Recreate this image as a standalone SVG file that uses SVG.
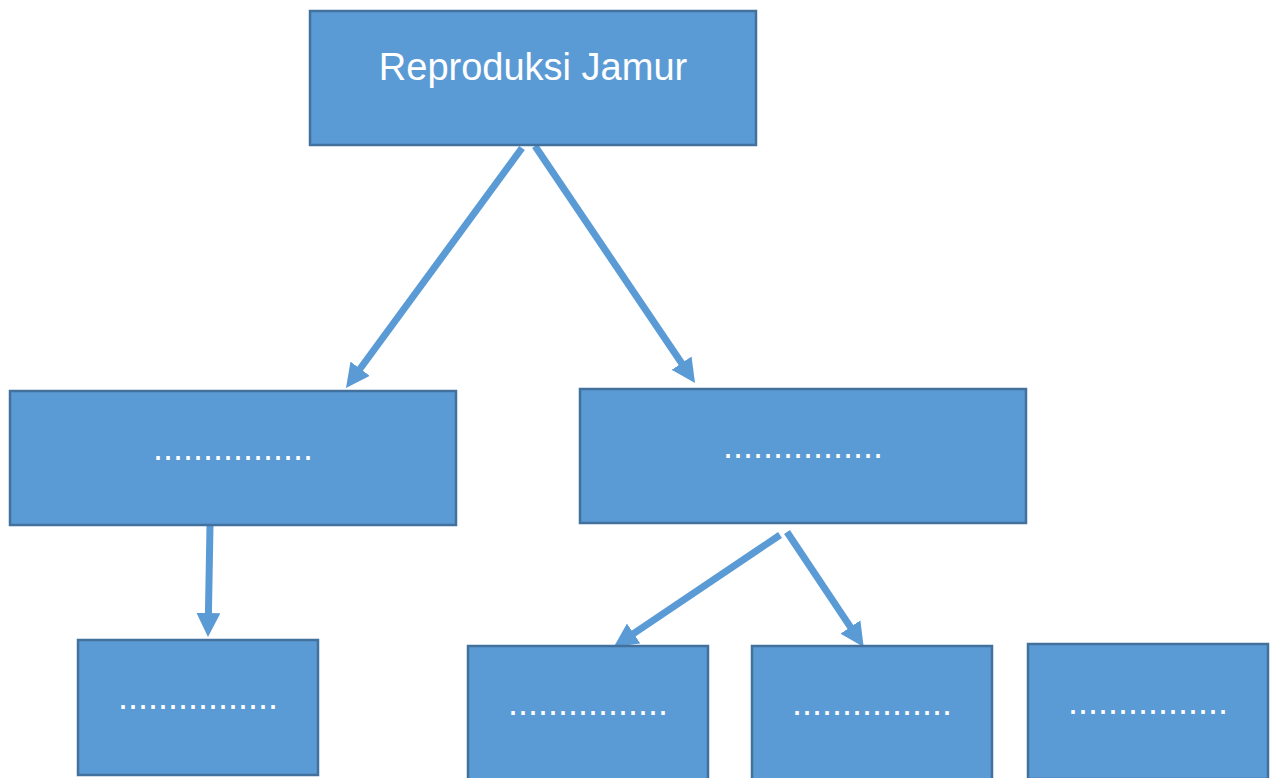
<svg xmlns="http://www.w3.org/2000/svg" width="1280" height="778" viewBox="0 0 1280 778">
<style>
.box{fill:#5b9bd5;stroke:#41719c;stroke-width:2.5}
.t{fill:#ffffff;font-family:"Liberation Sans",Arial,sans-serif;text-anchor:middle}
.c{stroke:#5b9bd5;stroke-width:7;fill:none;marker-end:url(#ah)}
</style>
<defs>
<marker id="ah" markerUnits="userSpaceOnUse" markerWidth="24" markerHeight="24" refX="2" refY="12" orient="auto">
<path d="M0,0 L24,12 L0,24 z" fill="#5b9bd5"/>
</marker>
</defs>
<rect width="1280" height="778" fill="#ffffff"/>
<g id="connectors">
<line class="c" x1="522" y1="148" x2="359" y2="370.3"/>
<line class="c" x1="535" y1="146" x2="682.7" y2="364.8"/>
<line class="c" x1="210" y1="526" x2="208.4" y2="615"/>
<line class="c" x1="780" y1="535" x2="632" y2="634.6"/>
<line class="c" x1="787" y1="532" x2="851.5" y2="628.6"/>
</g>
<g id="root">
<rect class="box" x="310" y="11" width="446" height="134"/>
<text class="t" x="533" y="80" font-size="38">Reproduksi Jamur</text>
</g>
<g id="mid-left">
<rect class="box" x="10" y="391" width="446" height="134"/>
<text class="t" x="233" y="460" font-size="36">................</text>
</g>
<g id="mid-right">
<rect class="box" x="580" y="389" width="446" height="134"/>
<text class="t" x="803" y="458" font-size="36">................</text>
</g>
<g id="bottom-1">
<rect class="box" x="78" y="640" width="240" height="135"/>
<text class="t" x="198" y="709" font-size="36">................</text>
</g>
<g id="bottom-2">
<rect class="box" x="468" y="646" width="240" height="135"/>
<text class="t" x="588" y="715" font-size="36">................</text>
</g>
<g id="bottom-3">
<rect class="box" x="752" y="646" width="240" height="135"/>
<text class="t" x="872" y="715" font-size="36">................</text>
</g>
<g id="bottom-4">
<rect class="box" x="1028" y="644" width="240" height="135"/>
<text class="t" x="1148" y="714" font-size="36">................</text>
</g>
</svg>
